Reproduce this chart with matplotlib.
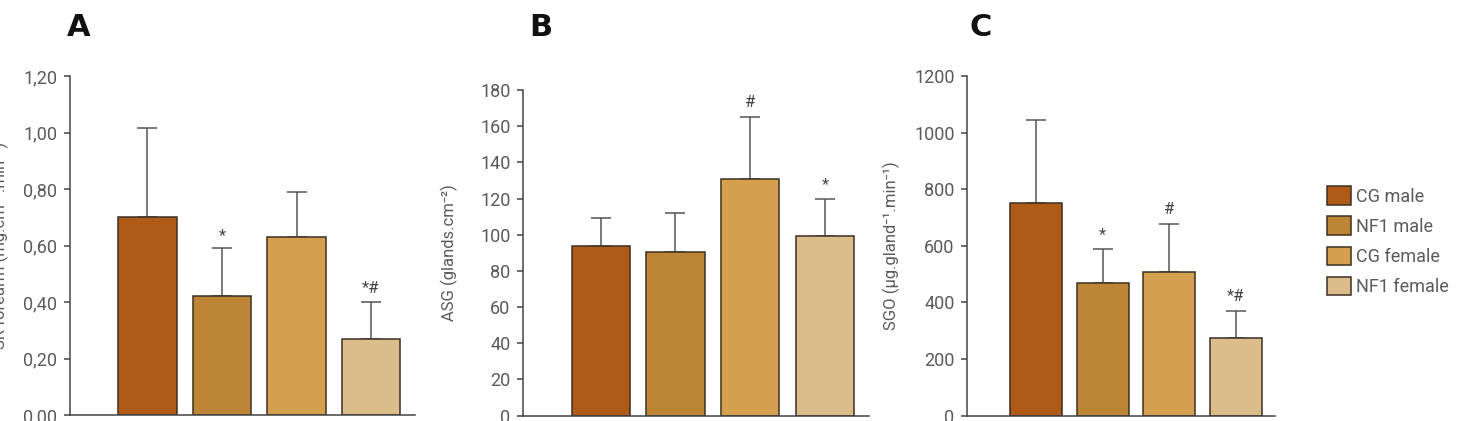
import matplotlib.pyplot as plt

plt.rcParams['font.family'] = ['Roboto', 'DejaVu Sans']

groups = ['CG male', 'NF1 male', 'CG female', 'NF1 female']
colors = ['#B05A17', '#BC8636', '#D4A04E', '#DBBC8B']

# panel A - forearm sweat rate
a_mean = [0.70, 0.42, 0.63, 0.27]
a_err = [0.315, 0.17, 0.16, 0.13]
a_marks = ['', '*', '', '*#']
a_ticks = [0, 0.2, 0.4, 0.6, 0.8, 1.0, 1.2]
a_labels = ['0,00', '0,20', '0,40', '0,60', '0,80', '1,00', '1,20']

# panel B - ASG
b_mean = [93.7, 90.3, 130.6, 99.5]
b_err = [15.7, 21.7, 34.6, 20.1]
b_marks = ['', '', '#', '*']
b_ticks = [0, 20, 40, 60, 80, 100, 120, 140, 160, 180]
b_labels = [str(t) for t in b_ticks]

# panel C - SGO
c_mean = [752, 467, 507, 274]
c_err = [292, 122, 169, 97]
c_marks = ['', '*', '#', '*#']
c_ticks = [0, 200, 400, 600, 800, 1000, 1200]
c_labels = [str(t) for t in c_ticks]

W, H = 1463, 421
fig = plt.figure(figsize=(W / 100, H / 100), dpi=100)

def px_axes(l, t, r, b):
    return fig.add_axes([l / W, 1 - b / H, (r - l) / W, (b - t) / H])

ink = '#444444'
txt = '#5a5a5a'

def panel(ax, mean, err, marks, ticks, labels, ylabel, lab_x, mark_pad):
    x = list(range(len(mean)))
    bars = ax.bar(x, mean, width=0.78, color=colors, edgecolor='#3b3024',
                  linewidth=1.1, zorder=2)
    ax.errorbar(x, mean, yerr=[[0] * len(err), err], fmt='none',
                ecolor='#555555', elinewidth=1.1, capsize=7.5, capthick=1.1,
                zorder=1)
    for xi, m, e, s in zip(x, mean, err, marks):
        if s:
            ax.text(xi, m + e + mark_pad, s, ha='center', va='bottom',
                    fontsize=12, color=ink)
    ax.set_xlim(-1.04, 3.59)
    ax.set_ylim(ticks[0], ticks[-1])
    ax.set_yticks(ticks)
    ax.set_yticklabels(labels)
    ax.set_xticks([])
    for s in ['top', 'right']:
        ax.spines[s].set_visible(False)
    for s in ['left', 'bottom']:
        ax.spines[s].set_color(ink)
        ax.spines[s].set_linewidth(1.1)
    ax.tick_params(axis='y', colors=ink, labelcolor=txt, labelsize=13,
                   length=4, width=1.1, pad=5)
    ax.set_ylabel(ylabel, fontsize=12, color=txt)
    ax.yaxis.set_label_coords(lab_x, 0.5)
    return bars

axA = px_axes(70, 76, 415, 415)
axB = px_axes(523, 90, 869, 415.6)
axC = px_axes(967, 76, 1275, 415.6)

panel(axA, a_mean, a_err, a_marks, a_ticks, a_labels,
      'SR forearm (mg.cm⁻².min⁻¹)', -0.177, 0.02)
panel(axB, b_mean, b_err, b_marks, b_ticks, b_labels,
      'ASG (glands.cm⁻²)', -0.188, 4)
bars = panel(axC, c_mean, c_err, c_marks, c_ticks, c_labels,
             'SGO (µg.gland⁻¹.min⁻¹)', -0.2175, 25)

for lbl, xp in zip(['A', 'B', 'C'], [79, 541, 981]):
    fig.text(xp / W, 1 - 28 / H, lbl, ha='center', va='center',
             fontsize=22, fontweight='bold', family='DejaVu Sans', color='#111111')

fig.legend(bars, groups, loc='upper left', bbox_to_anchor=(1311 / W, 1 - 170 / H),
           frameon=False, fontsize=13, handlelength=1.3, handleheight=1.2,
           handletextpad=0.3, labelspacing=0.6, labelcolor=txt)

fig.savefig('out.png', dpi=100)
